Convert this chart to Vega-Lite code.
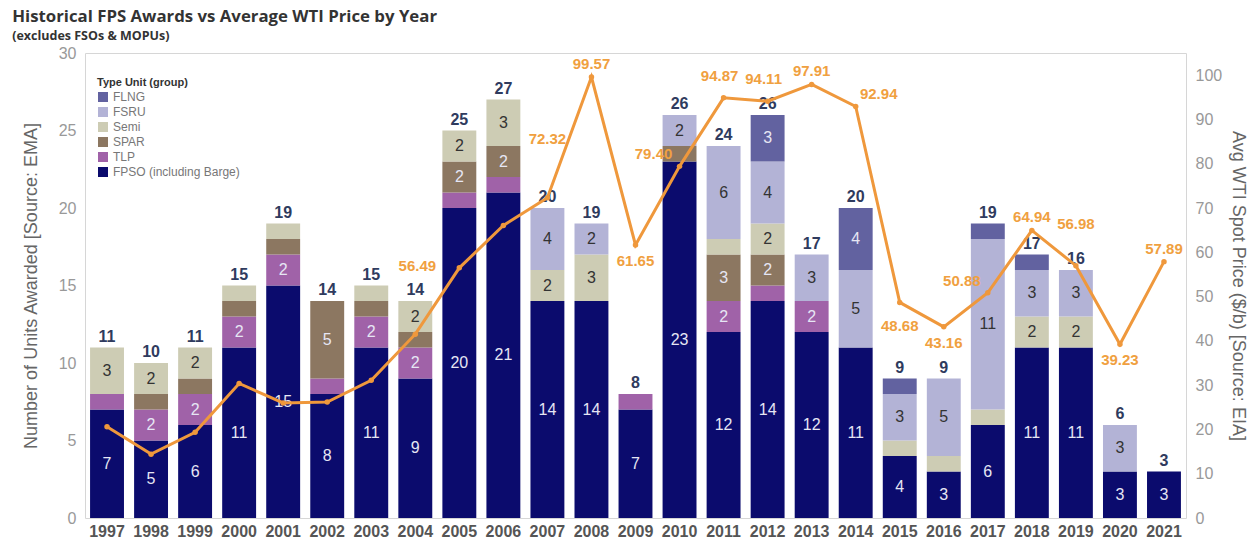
{
  "$schema": "https://vega.github.io/schema/vega-lite/v6.json",
  "autosize": {"type": "none"},
  "width": 1101,
  "height": 465,
  "padding": {"left": 85, "top": 53, "right": 66, "bottom": 23},
  "background": "white",
  "config": {"font": "Liberation Sans", "view": {"stroke": "#d6d6d6", "strokeWidth": 1}},
  "title": {
    "text": "Historical FPS Awards vs Average WTI Price by Year",
    "subtitle": "(excludes FSOs & MOPUs)",
    "anchor": "start",
    "dx": -10,
    "font": "Open Sans",
    "fontSize": 16.8,
    "fontWeight": "bold",
    "color": "#333333",
    "subtitleFont": "Open Sans",
    "subtitleFontSize": 12.5,
    "subtitleFontWeight": "bold",
    "subtitleColor": "#333333",
    "subtitlePadding": 4,
    "offset": 3
  },
  "datasets": {
    "units": [
      {"year": "1997", "type": "FPSO (including Barge)", "n": 7}, {"year": "1997", "type": "TLP", "n": 1}, {"year": "1997", "type": "Semi", "n": 3},
      {"year": "1998", "type": "FPSO (including Barge)", "n": 5}, {"year": "1998", "type": "TLP", "n": 2}, {"year": "1998", "type": "SPAR", "n": 1}, {"year": "1998", "type": "Semi", "n": 2},
      {"year": "1999", "type": "FPSO (including Barge)", "n": 6}, {"year": "1999", "type": "TLP", "n": 2}, {"year": "1999", "type": "SPAR", "n": 1}, {"year": "1999", "type": "Semi", "n": 2},
      {"year": "2000", "type": "FPSO (including Barge)", "n": 11}, {"year": "2000", "type": "TLP", "n": 2}, {"year": "2000", "type": "SPAR", "n": 1}, {"year": "2000", "type": "Semi", "n": 1},
      {"year": "2001", "type": "FPSO (including Barge)", "n": 15}, {"year": "2001", "type": "TLP", "n": 2}, {"year": "2001", "type": "SPAR", "n": 1}, {"year": "2001", "type": "Semi", "n": 1},
      {"year": "2002", "type": "FPSO (including Barge)", "n": 8}, {"year": "2002", "type": "TLP", "n": 1}, {"year": "2002", "type": "SPAR", "n": 5},
      {"year": "2003", "type": "FPSO (including Barge)", "n": 11}, {"year": "2003", "type": "TLP", "n": 2}, {"year": "2003", "type": "SPAR", "n": 1}, {"year": "2003", "type": "Semi", "n": 1},
      {"year": "2004", "type": "FPSO (including Barge)", "n": 9}, {"year": "2004", "type": "TLP", "n": 2}, {"year": "2004", "type": "SPAR", "n": 1}, {"year": "2004", "type": "Semi", "n": 2},
      {"year": "2005", "type": "FPSO (including Barge)", "n": 20}, {"year": "2005", "type": "TLP", "n": 1}, {"year": "2005", "type": "SPAR", "n": 2}, {"year": "2005", "type": "Semi", "n": 2},
      {"year": "2006", "type": "FPSO (including Barge)", "n": 21}, {"year": "2006", "type": "TLP", "n": 1}, {"year": "2006", "type": "SPAR", "n": 2}, {"year": "2006", "type": "Semi", "n": 3},
      {"year": "2007", "type": "FPSO (including Barge)", "n": 14}, {"year": "2007", "type": "Semi", "n": 2}, {"year": "2007", "type": "FSRU", "n": 4},
      {"year": "2008", "type": "FPSO (including Barge)", "n": 14}, {"year": "2008", "type": "Semi", "n": 3}, {"year": "2008", "type": "FSRU", "n": 2},
      {"year": "2009", "type": "FPSO (including Barge)", "n": 7}, {"year": "2009", "type": "TLP", "n": 1},
      {"year": "2010", "type": "FPSO (including Barge)", "n": 23}, {"year": "2010", "type": "SPAR", "n": 1}, {"year": "2010", "type": "FSRU", "n": 2},
      {"year": "2011", "type": "FPSO (including Barge)", "n": 12}, {"year": "2011", "type": "TLP", "n": 2}, {"year": "2011", "type": "SPAR", "n": 3}, {"year": "2011", "type": "Semi", "n": 1}, {"year": "2011", "type": "FSRU", "n": 6},
      {"year": "2012", "type": "FPSO (including Barge)", "n": 14}, {"year": "2012", "type": "TLP", "n": 1}, {"year": "2012", "type": "SPAR", "n": 2}, {"year": "2012", "type": "Semi", "n": 2}, {"year": "2012", "type": "FSRU", "n": 4}, {"year": "2012", "type": "FLNG", "n": 3},
      {"year": "2013", "type": "FPSO (including Barge)", "n": 12}, {"year": "2013", "type": "TLP", "n": 2}, {"year": "2013", "type": "FSRU", "n": 3},
      {"year": "2014", "type": "FPSO (including Barge)", "n": 11}, {"year": "2014", "type": "FSRU", "n": 5}, {"year": "2014", "type": "FLNG", "n": 4},
      {"year": "2015", "type": "FPSO (including Barge)", "n": 4}, {"year": "2015", "type": "Semi", "n": 1}, {"year": "2015", "type": "FSRU", "n": 3}, {"year": "2015", "type": "FLNG", "n": 1},
      {"year": "2016", "type": "FPSO (including Barge)", "n": 3}, {"year": "2016", "type": "Semi", "n": 1}, {"year": "2016", "type": "FSRU", "n": 5},
      {"year": "2017", "type": "FPSO (including Barge)", "n": 6}, {"year": "2017", "type": "Semi", "n": 1}, {"year": "2017", "type": "FSRU", "n": 11}, {"year": "2017", "type": "FLNG", "n": 1},
      {"year": "2018", "type": "FPSO (including Barge)", "n": 11}, {"year": "2018", "type": "Semi", "n": 2}, {"year": "2018", "type": "FSRU", "n": 3}, {"year": "2018", "type": "FLNG", "n": 1},
      {"year": "2019", "type": "FPSO (including Barge)", "n": 11}, {"year": "2019", "type": "Semi", "n": 2}, {"year": "2019", "type": "FSRU", "n": 3},
      {"year": "2020", "type": "FPSO (including Barge)", "n": 3}, {"year": "2020", "type": "FSRU", "n": 3},
      {"year": "2021", "type": "FPSO (including Barge)", "n": 3}
    ],
    "wti": [
      {"year": "1997", "wti": 20.61}, {"year": "1998", "wti": 14.42}, {"year": "1999", "wti": 19.34},
      {"year": "2000", "wti": 30.38}, {"year": "2001", "wti": 25.98}, {"year": "2002", "wti": 26.18},
      {"year": "2003", "wti": 31.08}, {"year": "2004", "wti": 41.51}, {"year": "2005", "wti": 56.49},
      {"year": "2006", "wti": 66.05}, {"year": "2007", "wti": 72.32}, {"year": "2008", "wti": 99.57},
      {"year": "2009", "wti": 61.65}, {"year": "2010", "wti": 79.40}, {"year": "2011", "wti": 94.87},
      {"year": "2012", "wti": 94.11}, {"year": "2013", "wti": 97.91}, {"year": "2014", "wti": 92.94},
      {"year": "2015", "wti": 48.68}, {"year": "2016", "wti": 43.16}, {"year": "2017", "wti": 50.88},
      {"year": "2018", "wti": 64.94}, {"year": "2019", "wti": 56.98}, {"year": "2020", "wti": 39.23},
      {"year": "2021", "wti": 57.89}
    ]
  },
  "encoding": {
    "x": {
      "field": "year",
      "type": "ordinal",
      "scale": {"paddingInner": 0.23, "paddingOuter": 0.115},
      "axis": {"title": null, "labelAngle": 0, "labelFontSize": 16, "labelFontWeight": "bold", "labelColor": "#555555", "ticks": false, "domain": false, "labelPadding": 5}
    }
  },
  "layer": [
    {
      "data": {"name": "units"},
      "transform": [
        {"calculate": "indexof(['FPSO (including Barge)','TLP','SPAR','Semi','FSRU','FLNG'], datum.type)", "as": "ord"},
        {"stack": "n", "groupby": ["year"], "sort": [{"field": "ord", "order": "ascending"}], "as": ["y0", "y1"]},
        {"calculate": "(datum.y0 + datum.y1) / 2", "as": "ym"}
      ],
      "layer": [
        {
          "mark": {"type": "bar"},
          "encoding": {
            "y": {
              "field": "y0",
              "type": "quantitative",
              "stack": null,
              "scale": {"domain": [0, 30]},
              "axis": {"title": "Number of Units Awarded [Source: EMA]", "values": [0, 5, 10, 15, 20, 25, 30], "grid": false, "ticks": false, "domain": false, "labelFontSize": 16, "labelColor": "#999999", "labelPadding": 9, "titleFontSize": 18, "titleFontWeight": "normal", "titleColor": "#666666", "titlePadding": 18}
            },
            "y2": {"field": "y1"},
            "color": {
              "field": "type",
              "type": "nominal",
              "scale": {
                "domain": ["FLNG", "FSRU", "Semi", "SPAR", "TLP", "FPSO (including Barge)"],
                "range": ["#6262a0", "#b3b3d6", "#cdccb4", "#8c7761", "#a062a8", "#0b0b6d"]
              },
              "legend": {"orient": "none", "legendX": 12, "legendY": 24, "title": "Type Unit (group)", "titleFontSize": 11, "titleFontWeight": "bold", "titleColor": "#333333", "titlePadding": 3, "labelFontSize": 12, "labelColor": "#777777", "symbolType": "square", "symbolSize": 100, "symbolStrokeWidth": 0, "rowPadding": 3}
            }
          }
        },
        {
          "transform": [{"filter": "datum.n >= 2"}],
          "mark": {"type": "text", "fontSize": 16, "baseline": "middle"},
          "encoding": {
            "y": {"field": "ym", "type": "quantitative"},
            "text": {"field": "n", "type": "quantitative"},
            "color": {"condition": {"test": "datum.type === 'Semi' || datum.type === 'FSRU'", "value": "#333333"}, "value": "#e6e6f4"}
          }
        },
        {
          "mark": {"type": "text", "fontSize": 16, "fontWeight": "bold", "baseline": "bottom", "dy": -3, "color": "#2f3b5e"},
          "encoding": {
            "y": {"aggregate": "max", "field": "y1", "type": "quantitative"},
            "text": {"aggregate": "max", "field": "y1", "type": "quantitative"}
          }
        }
      ]
    },
    {
      "data": {"name": "wti"},
      "encoding": {
        "y": {
          "field": "wti",
          "type": "quantitative",
          "scale": {"domain": [0, 105]},
          "axis": {"orient": "right", "title": "Avg WTI Spot Price ($/b) [Source: EIA]", "values": [0, 10, 20, 30, 40, 50, 60, 70, 80, 90, 100], "grid": false, "ticks": false, "domain": false, "labelFontSize": 16, "labelColor": "#999999", "labelPadding": 9, "titleFontSize": 18, "titleFontWeight": "normal", "titleColor": "#666666", "titlePadding": 7}
        }
      },
      "layer": [
        {"mark": {"type": "line", "color": "#ef983c", "strokeWidth": 3}, "encoding": {}},
        {"mark": {"type": "point", "filled": true, "color": "#ef983c", "size": 30, "opacity": 1}, "encoding": {}},
        {
          "transform": [{"filter": {"field": "year", "oneOf": ["2008", "2013", "2018", "2021"]}}],
          "mark": {"type": "text", "fontSize": 15, "fontWeight": "bold", "color": "#f0a040", "baseline": "middle", "dy": -13},
          "encoding": {"text": {"field": "wti", "type": "quantitative", "format": ".2f"}}
        },
        {
          "transform": [{"filter": {"field": "year", "oneOf": ["2011", "2012"]}}],
          "mark": {"type": "text", "fontSize": 15, "fontWeight": "bold", "color": "#f0a040", "baseline": "middle", "dy": -22, "dx": -4},
          "encoding": {"text": {"field": "wti", "type": "quantitative", "format": ".2f"}}
        },
        {
          "transform": [{"filter": {"field": "year", "oneOf": ["2009", "2016", "2020"]}}],
          "mark": {"type": "text", "fontSize": 15, "fontWeight": "bold", "color": "#f0a040", "baseline": "middle", "dy": 16},
          "encoding": {"text": {"field": "wti", "type": "quantitative", "format": ".2f"}}
        },
        {
          "transform": [{"filter": {"field": "year", "oneOf": ["2015"]}}],
          "mark": {"type": "text", "fontSize": 15, "fontWeight": "bold", "color": "#f0a040", "baseline": "middle", "dy": 24},
          "encoding": {"text": {"field": "wti", "type": "quantitative", "format": ".2f"}}
        },
        {
          "transform": [{"filter": {"field": "year", "oneOf": ["2010", "2017"]}}],
          "mark": {"type": "text", "fontSize": 15, "fontWeight": "bold", "color": "#f0a040", "baseline": "middle", "dy": -12, "dx": -26},
          "encoding": {"text": {"field": "wti", "type": "quantitative", "format": ".2f"}}
        },
        {
          "transform": [{"filter": {"field": "year", "oneOf": ["2005"]}}],
          "mark": {"type": "text", "fontSize": 15, "fontWeight": "bold", "color": "#f0a040", "baseline": "middle", "dy": -2, "dx": -42},
          "encoding": {"text": {"field": "wti", "type": "quantitative", "format": ".2f"}}
        },
        {
          "transform": [{"filter": {"field": "year", "oneOf": ["2014"]}}],
          "mark": {"type": "text", "fontSize": 15, "fontWeight": "bold", "color": "#f0a040", "baseline": "middle", "dy": -12, "dx": 23},
          "encoding": {"text": {"field": "wti", "type": "quantitative", "format": ".2f"}}
        },
        {
          "transform": [{"filter": {"field": "year", "oneOf": ["2007"]}}],
          "mark": {"type": "text", "fontSize": 15, "fontWeight": "bold", "color": "#f0a040", "baseline": "middle", "dy": -59},
          "encoding": {"text": {"field": "wti", "type": "quantitative", "format": ".2f"}}
        },
        {
          "transform": [{"filter": {"field": "year", "oneOf": ["2019"]}}],
          "mark": {"type": "text", "fontSize": 15, "fontWeight": "bold", "color": "#f0a040", "baseline": "middle", "dy": -42},
          "encoding": {"text": {"field": "wti", "type": "quantitative", "format": ".2f"}}
        }
      ]
    }
  ],
  "resolve": {"scale": {"y": "independent"}}
}
